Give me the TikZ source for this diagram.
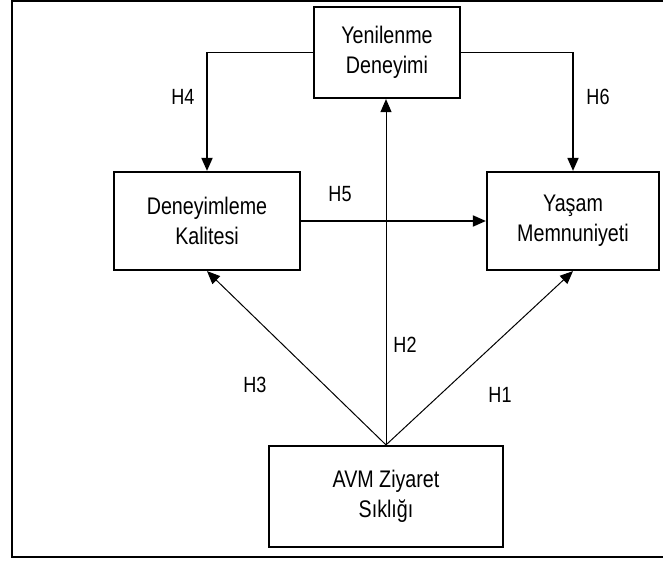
\documentclass[tikz,border=0pt]{standalone}
\usepackage{fontspec}
\setmainfont{Liberation Sans}
\newfontfamily\narrowsans[FakeStretch=0.82]{Liberation Sans}
\usepackage{tikz}
\usetikzlibrary{arrows.meta,positioning}

\begin{document}
\begin{tikzpicture}[x=1pt,y=-1pt,line cap=butt,line join=miter,
  box/.style={draw=black,line width=2.2pt,align=center,inner sep=0pt,
    font=\narrowsans\fontsize{24}{30}\selectfont},
  link/.style={draw=black,line width=1.8pt,-{Triangle[length=13pt,width=11pt]}},
  thin/.style={draw=black,line width=1pt,-{Triangle[length=13pt,width=11pt]}},
  hyp/.style={font=\narrowsans\fontsize{22}{26}\selectfont}]
\useasboundingbox (0,0) rectangle (663,561);
% outer frame (right side cut off)
\draw[line width=2.6pt] (12,0.4) rectangle (670,557);

% constructs
\node[box,minimum width=146pt,minimum height=91pt] (yen) at (387,52.5) {Yenilenme\\Deneyimi};
\node[box,minimum width=186pt,minimum height=98pt] (den) at (207,221) {Deneyimleme\\Kalitesi};
\node[box,minimum width=172pt,minimum height=98pt] (yas) at (573,221) {Yaşam\\Memnuniyeti};
\node[box,minimum width=234pt,minimum height=101pt] (avm) at (386,496.5) {AVM Ziyaret\\Sıklığı};

% hypotheses
\draw[link] (yen.west) -| (den.north);
\draw[link] (yen.east) -| (yas.north);
\draw[link] (den.east) -- (yas.west);
\draw[thin] (avm.north) -- (avm.north |- yen.south);
\draw[thin] (avm.north) -- (den.south);
\draw[thin] (avm.north) -- (yas.south);

\node[hyp] (h4) at (183,97) {H4};
\node[hyp] (h6) at (598,97) {H6};
\node[hyp] (h5) at (340,194) {H5};
\node[hyp] (h2) at (405,345) {H2};
\node[hyp] (h3) at (255,385) {H3};
\node[hyp] (h1) at (500,395) {H1};
\end{tikzpicture}
\end{document}
